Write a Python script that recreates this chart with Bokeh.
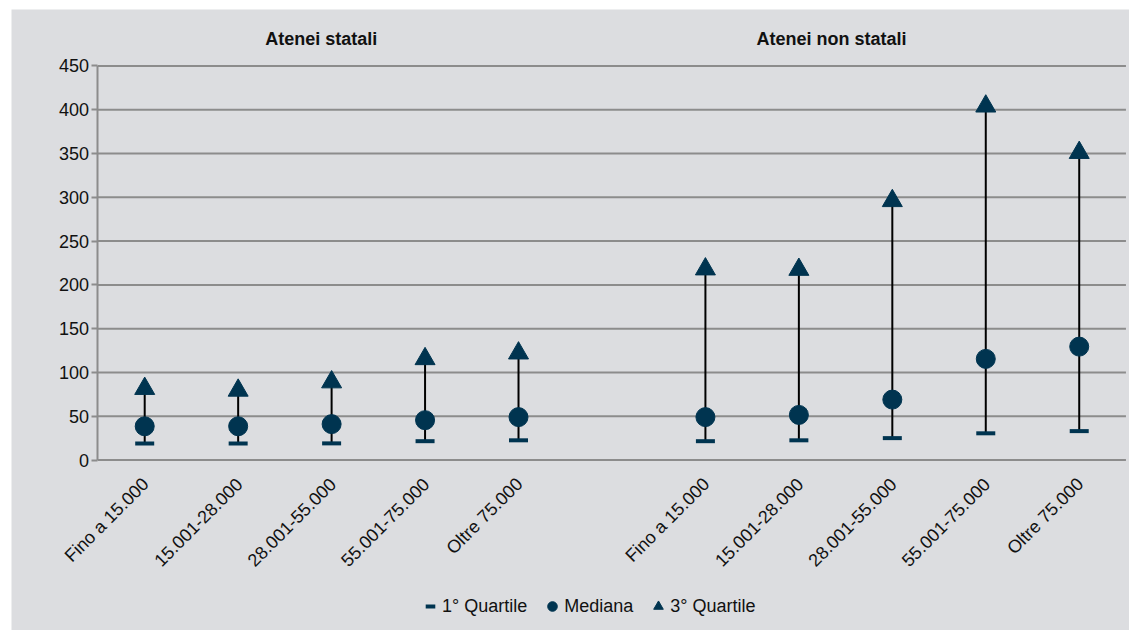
import math
from bokeh.plotting import figure
from bokeh.layouts import column, row
from bokeh.models import Label, Legend, LegendItem, FixedTicker, Range1d, Spacer
from bokeh.core.properties import value
from bokeh.embed import file_html
from bokeh.resources import INLINE

# ---- data ----
categories = ["Fino a 15.000", "15.001-28.000", "28.001-55.000", "55.001-75.000", "Oltre 75.000"]
groups = ["Atenei statali", "Atenei non statali"]

statali_q1 = [19, 19, 19, 21.5, 22.5]
statali_med = [38.5, 38.5, 41, 45.5, 49]
statali_q3 = [81.5, 79.5, 89, 115.5, 122]

non_statali_q1 = [21.5, 22.5, 25, 30.5, 33]
non_statali_med = [49, 51.5, 69, 115.5, 129.5]
non_statali_q3 = [218, 217.5, 296, 404, 351]

y_ticks = [0, 50, 100, 150, 200, 250, 300, 350, 400, 450]

# ---- styling ----
BG = "#dcdde0"
NAVY = "#003450"
GRID = "#8c8c8c"
FONT = "Liberation Sans"
FS = "18px"
TXT = "#111111"

n = len(categories)
x_stat = list(range(n))
x_non = [i + n + 1 for i in range(n)]
xs = x_stat + x_non
q1 = statali_q1 + non_statali_q1
med = statali_med + non_statali_med
q3 = statali_q3 + non_statali_q3
labels = categories + categories

X_LEFT = -0.5          # plot-area left edge (slot border)
X_RIGHT = 2 * n + 0.5  # plot-area right edge

p = figure(width=1118, height=621, output_backend="svg", toolbar_location=None,
           x_axis_location=None,
           x_range=Range1d(-1.4254, 10.538), y_range=Range1d(-194.7, 514.5),
           min_border_left=0, min_border_right=0, min_border_top=0, min_border_bottom=0)
p.background_fill_color = BG
p.border_fill_color = BG
p.outline_line_alpha = 0

# y axis placed at the left edge of the plot area
p.yaxis.fixed_location = X_LEFT
p.yaxis.ticker = FixedTicker(ticks=y_ticks)
p.yaxis.bounds = (min(y_ticks), max(y_ticks))
p.yaxis.major_tick_out = 6
p.yaxis.major_tick_in = 0
p.yaxis.minor_tick_line_alpha = 0
p.yaxis.major_tick_line_color = GRID
p.yaxis.major_tick_line_width = 2
p.yaxis.axis_line_color = GRID
p.yaxis.axis_line_width = 2
p.yaxis.major_label_standoff = 3
p.yaxis.major_label_text_font = FONT
p.yaxis.major_label_text_font_size = FS
p.yaxis.major_label_text_color = TXT

p.xgrid.grid_line_alpha = 0
p.ygrid.grid_line_alpha = 0
# horizontal gridlines across the plot area only
p.segment(x0=[X_LEFT] * len(y_ticks), y0=y_ticks, x1=[X_RIGHT] * len(y_ticks), y1=y_ticks,
          line_color=GRID, line_width=2)

# high-low lines and markers
p.segment(x0=xs, y0=q1, x1=xs, y1=q3, line_color="black", line_width=2)
r_q1 = p.scatter(xs, q1, marker="dash", size=19, line_width=4, line_color=NAVY)
r_med = p.scatter(xs, med, marker="circle", size=19, fill_color=NAVY, line_color=NAVY)
r_q3 = p.scatter(xs, q3, marker="triangle", size=20, fill_color=NAVY, line_color=NAVY)

# category labels (rotated) under the zero line
p.text(x=xs, y=[0] * len(xs), text=labels, angle=math.pi / 4,
       text_align="right", text_baseline="middle", x_offset=1, y_offset=21,
       text_font=value(FONT), text_font_size=value(FS), text_color=TXT)

# group titles
for gx, g in zip([1.89, 7.35], groups):
    p.add_layout(Label(x=gx, y=480.3, text=g, text_align="center", text_baseline="middle",
                       text_font=FONT, text_font_size=FS, text_font_style="bold",
                       text_color=TXT))

legend = Legend(items=[LegendItem(label="1° Quartile", renderers=[r_q1]),
                       LegendItem(label="Mediana", renderers=[r_med]),
                       LegendItem(label="3° Quartile", renderers=[r_q3])],
                orientation="horizontal", location=(407, 12),
                glyph_width=24, glyph_height=24, label_standoff=0, spacing=13,
                padding=0, margin=0, border_line_alpha=0, background_fill_alpha=0,
                label_text_font=FONT, label_text_font_size=FS, label_text_color=TXT)
p.add_layout(legend, "center")

layout = column(Spacer(height=9), row(Spacer(width=11), p))
open("out.html", "w").write(file_html(layout, INLINE))
